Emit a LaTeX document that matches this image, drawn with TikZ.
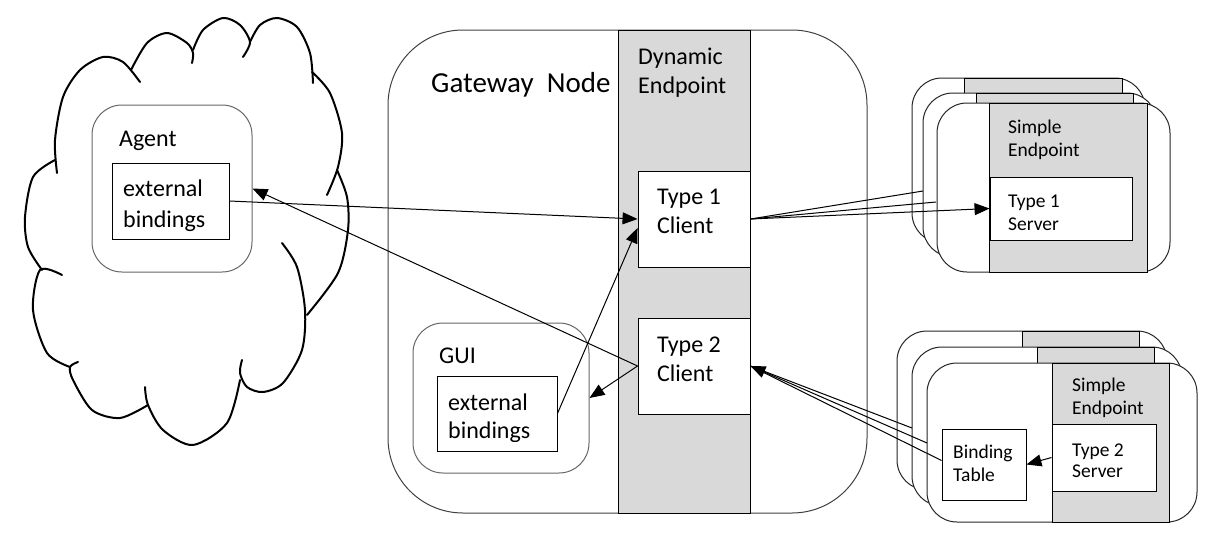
\documentclass[tikz,border=0pt]{standalone}
\usepackage{fontspec}
\setmainfont{Carlito}
\usetikzlibrary{arrows.meta}
\definecolor{epgray}{RGB}{217,217,217}
\begin{document}
\begin{tikzpicture}[x=1pt,y=-1pt,
  box/.style={draw=black, line width=0.9pt, fill=white, inner sep=0pt},
  rbox/.style={draw=black!60, line width=1pt, rounded corners=30pt, inner sep=0pt},
  gcol/.style={draw=black, line width=0.9pt, fill=epgray, inner sep=0pt},
  card/.style={draw=black!85, line width=1pt, fill=white, rounded corners=30pt, inner sep=0pt},
  txtL/.style={font=\fontsize{24}{29}\selectfont, anchor=base west, inner sep=0pt},
  txtS/.style={font=\fontsize{19.5}{23}\selectfont, anchor=base west, inner sep=0pt},
  arr/.style={-{Triangle[length=15pt,width=12pt]}, line width=1pt},
  ln/.style={line width=1pt},
  cloudline/.style={line width=2pt, line cap=round}
]
\useasboundingbox (0,0) rectangle (1232,536);

% ---------- cloud ----------
\begin{scope}[cloudline]
\draw plot[smooth] coordinates {(57,173) (55,140) (63,97) (80,70) (103,57) (123,62) (140,82)};
\draw plot[smooth] coordinates {(131,70) (147,43) (167,33) (187,43) (193,53) (192,63)};
\draw plot[smooth] coordinates {(193,50) (203,30) (223,18) (240,25) (250,42) (243,57)};
\draw plot[smooth] coordinates {(250,42) (260,25) (277,18) (297,27) (310,53) (313,83)};
\draw plot[smooth] coordinates {(312,72) (330,93) (342,133) (338,167) (327,195)};
\draw plot[smooth] coordinates {(337,170) (347,197) (348,230) (338,273) (307,315)};
\draw plot[smooth] coordinates {(282,243) (297,267) (305,310) (302,350) (283,383) (263,392) (247,387) (240,373) (242,360)};
\draw plot[smooth] coordinates {(240,380) (227,423) (193,445) (163,430) (148,405) (145,387)};
\draw plot[smooth] coordinates {(148,405) (120,418) (92,410) (73,380) (70,367) (78,362)};
\draw plot[smooth] coordinates {(70,367) (47,353) (33,310) (40,270) (62,275)};
\draw plot[smooth] coordinates {(42,270) (28,247) (25,217) (33,177) (55,160)};
\end{scope}

% ---------- agent ----------
\node[rbox, minimum width=160pt, minimum height=167pt] (agent) at (172,188.5) {};
\node[box, minimum width=117pt, minimum height=76pt] (agenteb) at (170.5,201) {};
\node[txtL] (agentT) at (119,146) {Agent};
\node[txtL] (agentE1) at (123,196) {external};
\node[txtL] (agentE2) at (123,227) {bindings};

% ---------- gateway node ----------
\node[draw=black!75, line width=1pt, rounded corners=75pt, inner sep=0pt,
      minimum width=479pt, minimum height=483pt] (gw) at (627.5,271.5) {};
\node[gcol, minimum width=132pt, minimum height=483pt] (dep) at (684,271.5) {};
\node[font=\fontsize{29}{34}\selectfont, anchor=base west, inner sep=0pt] (gwT) at (431,92) {Gateway\ \ Node};
\node[txtL] (depT1) at (638,64) {Dynamic};
\node[txtL] (depT2) at (638,93) {Endpoint};

\node[box, minimum width=112pt, minimum height=96pt] (c1) at (694,219) {};
\node[txtL] (c1a) at (657,204) {Type 1};
\node[txtL] (c1b) at (657,233) {Client};
\node[box, minimum width=112pt, minimum height=96pt] (c2) at (694,366) {};
\node[txtL] (c2a) at (657,352) {Type 2};
\node[txtL] (c2b) at (657,381) {Client};

\node[rbox, minimum width=176pt, minimum height=150pt] (gui) at (501,398) {};
\node[box, minimum width=120pt, minimum height=75pt] (guieb) at (497,413.5) {};
\node[txtL] (guiT) at (439,363) {GUI};
\begin{scope}
\clip (437,376) rectangle (557,441);
\node[txtL] (guiE1) at (448,410) {external};
\node[txtL] (guiE2) at (448,438) {bindings};
\end{scope}

% ---------- top-right simple endpoints ----------
\node[card, minimum width=233pt, minimum height=165pt] (tc1) at (1028.5,160.5) {};
\node[gcol, minimum width=158pt, minimum height=165pt] (tg1) at (1043,160.5) {};
\node[card, minimum width=234pt, minimum height=164pt] (tc2) at (1040,175) {};
\node[gcol, minimum width=157pt, minimum height=164pt] (tg2) at (1054.5,175) {};
\node[card, minimum width=233pt, minimum height=169pt] (tc3) at (1053.5,187.5) {};
\node[gcol, minimum width=158pt, minimum height=169pt] (tg3) at (1068,187.5) {};
\node[txtS] (seT1) at (1008,133) {Simple};
\node[txtS] (seT2) at (1008,156) {Endpoint};
\node[box, minimum width=142pt, minimum height=63pt] (s1) at (1061,208.5) {};
\node[txtS] (s1a) at (1008,207) {Type 1};
\node[txtS] (s1b) at (1008,230) {Server};

% ---------- bottom-right simple endpoints ----------
\node[card, minimum width=270pt, minimum height=159pt] (bc1) at (1032,410.5) {};
\node[gcol, minimum width=117pt, minimum height=159pt] (bg1) at (1080.5,410.5) {};
\node[card, minimum width=270pt, minimum height=159pt] (bc2) at (1047,426.5) {};
\node[gcol, minimum width=117pt, minimum height=159pt] (bg2) at (1095.5,426.5) {};
\node[card, minimum width=270pt, minimum height=159pt] (bc3) at (1062,442.5) {};
\node[gcol, minimum width=117pt, minimum height=159pt] (bg3) at (1110.5,442.5) {};
\node[txtS] (se2T1) at (1072,391) {Simple};
\node[txtS] (se2T2) at (1072,414) {Endpoint};
\node[box, minimum width=104pt, minimum height=67pt] (s2) at (1104,457.5) {};
\node[txtS] (s2a) at (1072,456) {Type 2};
\node[txtS] (s2b) at (1072,477) {Server};
\node[box, minimum width=84pt, minimum height=71pt] (bt) at (984,464.5) {};
\node[txtS] (bta) at (953,458) {Binding};
\node[txtS] (btb) at (953,481) {Table};

% ---------- connector end points on back cards ----------
\coordinate (f1) at (923,191);
\coordinate (f2) at (936,202);
\coordinate (g1) at (912,428);
\coordinate (g2) at (927,443);

% ---------- connectors ----------
\draw[arr] (agenteb.east) -- (c1.west);
\draw[arr] (c2.west) -- (agent.east);
\draw[arr] (c2.west) -- (gui.east);
\draw[arr] (guieb.east) -- ([yshift=-9pt]c1.west);

\draw[ln] (c1.east) -- (f1);
\draw[ln] (c1.east) -- (f2);
\draw[arr] (c1.east) -- (s1.west);

\draw[ln] (g1) -- (c2.east);
\draw[arr] (g2) -- (c2.east);
\draw[ln] ([yshift=4pt]bt.west) -- (c2.east);
\draw[arr] (s2.west) -- (bt.east);
\end{tikzpicture}
\end{document}
